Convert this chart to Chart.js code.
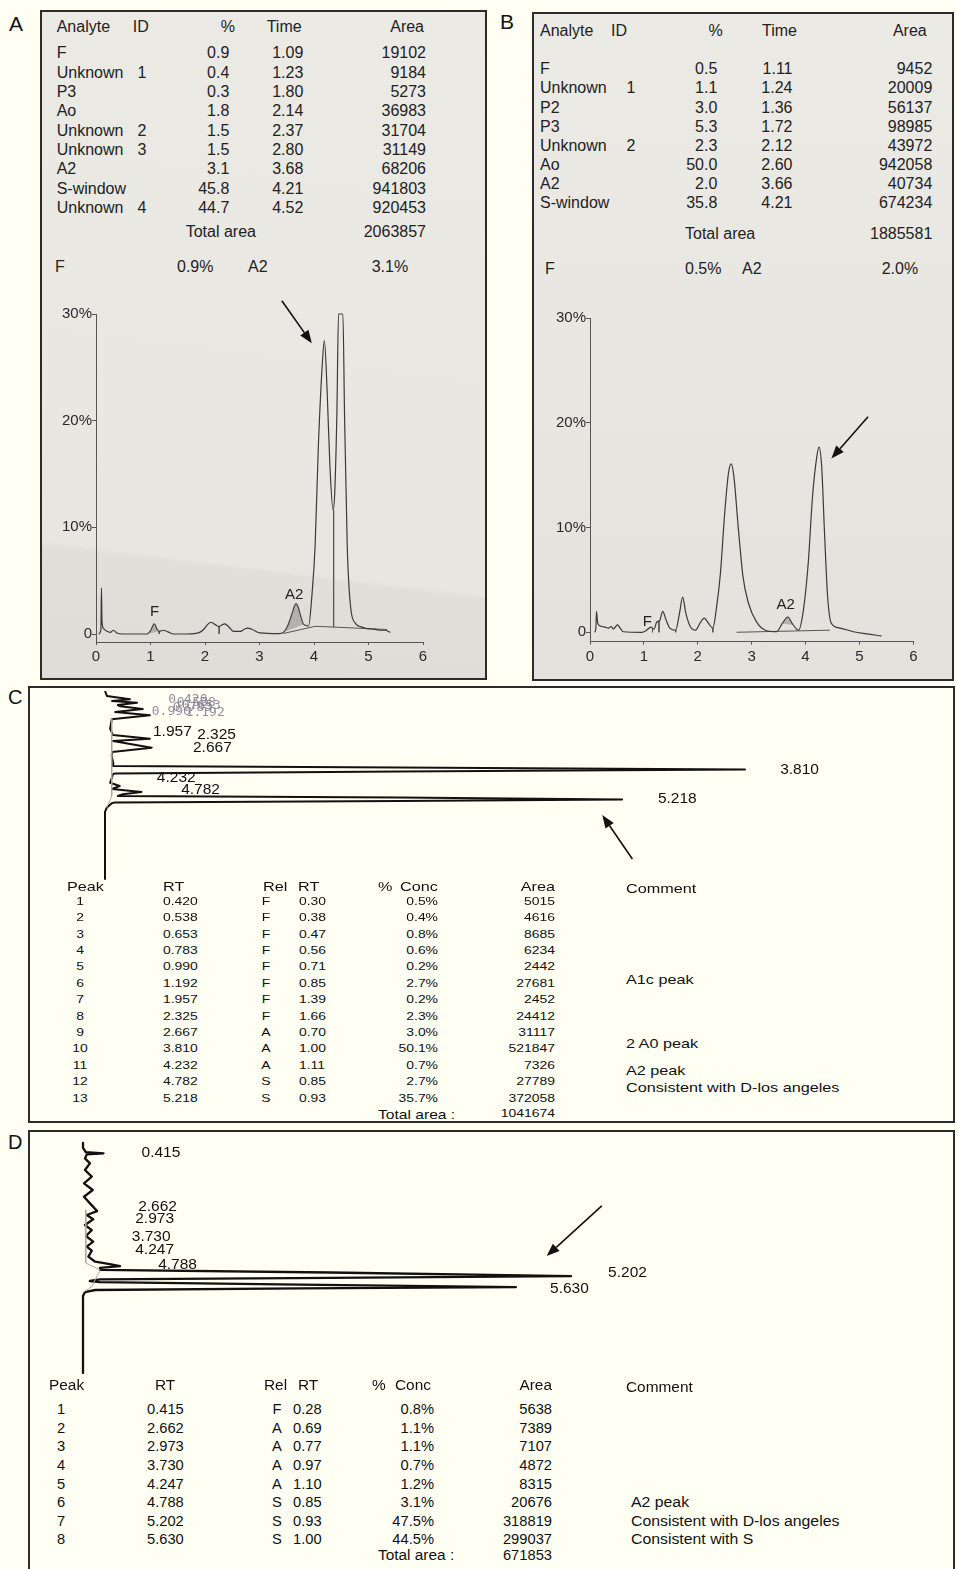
<!DOCTYPE html>
<html>
<head>
<meta charset="utf-8">
<script src="https://cdn.jsdelivr.net/npm/chart.js@4.4.1/dist/chart.umd.min.js"></script>
<style>
body{margin:0;background:#fffff4;font-family:"Liberation Sans",Arial,sans-serif;color:#222;}
#page{position:relative;width:957px;height:1569px;overflow:hidden;}
.box{position:absolute;border:2px solid #2b2b2b;box-sizing:border-box;}
#boxA{left:40px;top:10px;width:447px;height:670px;
  background:linear-gradient(187deg,#ebeae5 0%,#e7e6e1 81%,#e1dfda 81.6%,#dedcd6 100%);}
#boxB{left:532px;top:12px;width:422px;height:669px;
  background:linear-gradient(180deg,#eceae5 0%,#e7e6e1 60%,#e3e1dc 100%);}
#boxC{left:28px;top:686px;width:927px;height:437px;}
#boxD{left:28px;top:1130px;width:927px;height:450px;}
.t{position:absolute;white-space:nowrap;line-height:1;}
canvas{position:absolute;}
</style>
</head>
<body>
<div id="page">
  <div class="box" id="boxA"></div>
  <div class="box" id="boxB"></div>
  <div class="box" id="boxC"></div>
  <div class="box" id="boxD"></div>
  <canvas id="cvA" width="445" height="388" style="left:41px;top:290px"></canvas>
  <canvas id="cvB" width="420" height="388" style="left:533px;top:290px"></canvas>
  <canvas id="cvC" width="924" height="194" style="left:30px;top:688px"></canvas>
  <canvas id="cvD" width="924" height="250" style="left:30px;top:1132px"></canvas>
</div>
<script>
// ---------- panel A table ----------
const aAnalyte = ["F","Unknown","P3","Ao","Unknown","Unknown","A2","S-window","Unknown"];
const aId = ["","1","","","2","3","","","4"];
const aPercent = ["0.9","0.4","0.3","1.8","1.5","1.5","3.1","45.8","44.7"];
const aRetention = ["1.09","1.23","1.80","2.14","2.37","2.80","3.68","4.21","4.52"];
const aArea = ["19102","9184","5273","36983","31704","31149","68206","941803","920453"];
const aTotal = "2063857";
const aSummary = ["0.9%","3.1%"];

// ---------- panel B table ----------
const bAnalyte = ["F","Unknown","P2","P3","Unknown","Ao","A2","S-window"];
const bId = ["","1","","","2","","",""];
const bPercent = ["0.5","1.1","3.0","5.3","2.3","50.0","2.0","35.8"];
const bRetention = ["1.11","1.24","1.36","1.72","2.12","2.60","3.66","4.21"];
const bArea = ["9452","20009","56137","98985","43972","942058","40734","674234"];
const bTotal = "1885581";
const bSummary = ["0.5%","2.0%"];

// ---------- panel A chromatogram (time min, %) ----------
const aTime = [0.05,0.09,0.10,0.11,0.14,0.20,0.26,0.32,0.38,0.50,0.93,1.00,1.07,1.12,1.16,1.24,1.32,1.42,
  1.67,1.90,1.97,2.05,2.11,2.18,2.26,2.31,2.36,2.44,2.52,2.65,2.72,2.78,2.86,3.01,3.35,3.45,3.52,3.59,
  3.64,3.67,3.71,3.76,3.81,3.90,3.96,4.02,4.08,4.15,4.19,4.24,4.29,4.35,4.38,4.42,4.45,4.53,4.56,4.61,
  4.67,4.76,4.88,4.98,5.10,5.22,5.30,5.40];
const aSignal = [0,0.4,4.3,1.2,0.5,0.25,0.15,0.35,0.1,0,0,0.3,0.95,0.45,0.25,0.35,0.2,0,
  0,0.15,0.4,0.9,1.1,0.9,0.7,0.85,0.95,0.65,0.25,0.25,0.45,0.55,0.45,0.1,0.03,0.2,0.8,1.8,
  2.6,2.85,2.5,1.6,0.9,0.75,3.5,8.2,17.6,25.1,27.5,22.9,16.0,11.6,13.2,20.7,30,30,20.7,8.2,
  2.6,1.0,0.65,0.5,0.45,0.35,0.35,0.15];
const aBaseTime = [3.44,4.02,4.36,5.34];
const aBaseSignal = [0.05,0.72,0.65,0.42];
const aCutTime = [1.16,2.26,4.36];
const aCutTop = [0.25,0.7,11.6];
const aCutBottom = [0,0,0.65];
const aShade = [[0.93,1.16],[3.45,3.87]];
const aLabel = ["F","A2"];
const aLabelTime = [0.99,3.47];
const aLabelSignal = [2.09,3.68];
const aArrowTime = [3.41,3.96];
const aArrowSignal = [31.25,27.26];

// ---------- panel B chromatogram ----------
const bTime = [0.09,0.11,0.12,0.14,0.16,0.22,0.28,0.34,0.40,0.43,0.47,0.51,0.56,0.62,0.96,1.05,1.13,1.19,
  1.24,1.29,1.35,1.41,1.48,1.59,1.66,1.72,1.78,1.86,1.96,2.04,2.12,2.20,2.28,2.35,2.42,2.50,2.57,2.62,
  2.67,2.75,2.84,2.94,3.09,3.28,3.46,3.57,3.67,3.77,3.87,3.96,4.05,4.13,4.21,4.25,4.30,4.35,4.41,4.48,
  4.64,4.89,5.13,5.41];
const bSignal = [0,0.5,2.0,1.0,0.7,0.55,0.5,0.4,0.55,0.3,0.5,0.7,0.4,0.05,0,0.2,0.5,0.3,
  1.0,1.1,2.0,1.2,0.4,0.2,1.8,3.35,1.8,0.55,0.2,0.85,1.35,0.85,0.4,2.45,5.6,11.4,15.2,16.1,
  14.9,10.1,5.3,2.8,1.0,0.15,0.05,0.85,1.45,0.7,0.2,2.1,6.6,13.0,16.8,17.7,15.8,9.8,3.4,0.85,
  0.4,0.05,-0.15,-0.35];
const bBaseTime = [2.72,4.45];
const bBaseSignal = [0,0.2];
const bCutTime = [1.16,1.28,1.59,2.28];
const bCutTop = [0.35,1.1,0.2,0.4];
const bCutBottom = [0,0,0,0];
const bShade = [[1.08,1.16],[3.50,3.80]];
const bLabel = ["F","A2"];
const bLabelTime = [0.98,3.46];
const bLabelSignal = [1.03,2.58];
const bArrowTime = [5.16,4.48];
const bArrowSignal = [20.6,16.6];

const tickTimes = [0,1,2,3,4,5,6];
const tickPercents = [0,10,20,30];

// ---------- panel C (signal, time) ----------
const cTime = [0,0.23,0.39,0.47,0.55,0.66,0.72,0.85,0.99,1.14,1.33,1.78,2.07,2.24,2.35,2.66,2.86,3.05,
  3.39,3.52,3.59,3.685,3.78,3.87,3.91,4.31,4.46,4.60,4.74,4.85,4.93,5.00,5.09,5.16,5.23,5.27,5.48,5.68,8.83];
const cSignal = [0,0.3,3.9,1.1,5.0,2.0,2.4,5.9,1.6,7.0,1.05,0.8,1.25,7.0,1.25,7.3,1.1,1.05,
  1.3,1.25,46,100,46,1.56,1.25,0.8,2.3,1.1,5.7,2.8,2.0,46,80.8,46,1.56,1.05,0.27,0,0];
const cBaseTime = [1.3,4.93,5.48];
const cBaseSignal = [1.05,1.05,0.27];
const cPeakLabel = ["1.957","2.325","2.667","3.810","4.232","4.782","5.218"];
const cLabelSignal = [7.5,14.4,13.75,105.5,8.1,11.9,86.4];
const cLabelTime = [1.92,2.07,2.68,3.71,4.08,4.65,5.07];
const cSmallLabel = ["0.420","0.538","0.653","0.783","0.990","1.192"];
const cSmallSignal = [9.9,11.2,12.0,10.6,7.3,12.6];
const cSmallTime = [0.40,0.55,0.68,0.78,0.97,1.01];
const cArrowSignal = [82.4,77.7];
const cArrowTime = [7.89,5.82];

const cPeak = ["1","2","3","4","5","6","7","8","9","10","11","12","13"];
const cRT = ["0.420","0.538","0.653","0.783","0.990","1.192","1.957","2.325","2.667","3.810","4.232","4.782","5.218"];
const cRel = ["F","F","F","F","F","F","F","F","A","A","A","S","S"];
const cRelRT = ["0.30","0.38","0.47","0.56","0.71","0.85","1.39","1.66","0.70","1.00","1.11","0.85","0.93"];
const cConc = ["0.5%","0.4%","0.8%","0.6%","0.2%","2.7%","0.2%","2.3%","3.0%","50.1%","0.7%","2.7%","35.7%"];
const cArea = ["5015","4616","8685","6234","2442","27681","2452","24412","31117","521847","7326","27789","372058"];
const cTotal = "1041674";
const cComments = ["A1c peak","2 A0 peak","A2 peak","Consistent with D-los angeles"];

// ---------- panel D ----------
const dTime = [0,0.19,0.36,0.40,0.44,0.60,0.79,1.05,1.31,1.57,1.83,2.09,2.35,2.65,2.80,2.97,3.19,3.39,
  3.62,3.84,4.03,4.19,4.42,4.62,4.71,4.79,4.86,4.94,5.04,5.18,5.25,5.31,5.37,5.41,5.51,5.61,5.66,5.72,
  5.80,5.95,8.95];
const dSignal = [0,0,0.6,4.2,0.8,0.4,1.43,0.4,1.8,0.2,2.0,0.2,1.43,2.9,0.76,2.1,0.4,1.8,
  0.6,2.1,0.76,1.8,1.1,2.5,5.5,7.6,3.5,3.5,50.6,100,50.6,3.5,1.4,3.5,44.5,88.7,44.5,2.5,
  0.4,0,0];
const dBaseTime = [2.6,4.67,4.94,5.59,5.79];
const dBaseSignal = [0.57,0.57,3.5,1.8,0.2];
const dPeakLabel = ["0.415","2.662","2.973","3.730","4.247","4.788","5.202","5.630"];
const dLabelSignal = [12.0,11.3,10.7,10.0,10.7,15.4,107.6,95.7];
const dLabelTime = [0.39,2.49,2.96,3.66,4.16,4.75,5.06,5.68];
const dArrowSignal = [106.3,95];
const dArrowTime = [2.45,4.40];

const dPeak = ["1","2","3","4","5","6","7","8"];
const dRT = ["0.415","2.662","2.973","3.730","4.247","4.788","5.202","5.630"];
const dRel = ["F","A","A","A","A","S","S","S"];
const dRelRT = ["0.28","0.69","0.77","0.97","1.10","0.85","0.93","1.00"];
const dConc = ["0.8%","1.1%","1.1%","0.7%","1.2%","3.1%","47.5%","44.5%"];
const dArea = ["5638","7389","7107","4872","8315","20676","318819","299037"];
const dComment = ["","","","","","A2 peak","Consistent with D-los angeles","Consistent with S"];
const dTotal = "671853";

// ---------- text helper ----------
const page = document.getElementById("page");
function put(text, x, y, size, align, sx, color){
  const s = document.createElement("span");
  s.className = "t";
  s.textContent = text;
  s.style.left = x + "px";
  s.style.top = y + "px";
  s.style.fontSize = size + "px";
  const o = {l:["0%","0%"], r:["100%","-100%"], c:["50%","-50%"]}[align || "l"];
  s.style.transformOrigin = o[0] + " 50%";
  s.style.transform = "translate(" + o[1] + ",-50%) scaleX(" + (sx || 1) + ")";
  if(color) s.style.color = color;
  page.appendChild(s);
}

// panel letters
put("A", 9, 23, 21, "l", 1, "#111");
put("B", 500, 21, 21, "l", 1, "#111");
put("C", 8, 697, 20, "l", 1, "#111");
put("D", 8, 1142, 20, "l", 1, "#111");

// table A
const ink = "#222";
put("Analyte", 56.7, 26.7, 16, "l", 1, ink);
put("ID", 132.7, 26.7, 16, "l", 1, ink);
put("%", 235, 26.7, 16, "r", 1, ink);
put("Time", 266.7, 26.7, 16, "l", 1, ink);
put("Area", 424, 26.7, 16, "r", 1, ink);
aAnalyte.forEach((n,i)=>{
  const y = 53.3 + i*19.33;
  put(n, 56.7, y, 16, "l", 1, ink);
  put(aId[i], 142, y, 16, "c", 1, ink);
  put(aPercent[i], 229.3, y, 16, "r", 1, ink);
  put(aRetention[i], 303.3, y, 16, "r", 1, ink);
  put(aArea[i], 426, y, 16, "r", 1, ink);
});
put("Total area", 185.7, 232.3, 16, "l", 1, ink);
put(aTotal, 426, 232.3, 16, "r", 1, ink);
put("F", 55, 266.7, 16, "l", 1, ink);
put(aSummary[0], 177, 266.7, 16, "l", 1, ink);
put("A2", 248, 266.7, 16, "l", 1, ink);
put(aSummary[1], 371.7, 266.7, 16, "l", 1, ink);

// table B
put("Analyte", 540, 31, 16, "l", 1, ink);
put("ID", 611, 31, 16, "l", 1, ink);
put("%", 722.7, 31, 16, "r", 1, ink);
put("Time", 762, 31, 16, "l", 1, ink);
put("Area", 926.7, 31, 16, "r", 1, ink);
bAnalyte.forEach((n,i)=>{
  const y = 69.3 + i*19.14;
  put(n, 540, y, 16, "l", 1, ink);
  put(bId[i], 631, y, 16, "c", 1, ink);
  put(bPercent[i], 717.3, y, 16, "r", 1, ink);
  put(bRetention[i], 792.5, y, 16, "r", 1, ink);
  put(bArea[i], 932.3, y, 16, "r", 1, ink);
});
put("Total area", 685, 234, 16, "l", 1, ink);
put(bTotal, 932.3, 234, 16, "r", 1, ink);
put("F", 545, 269.3, 16, "l", 1, ink);
put(bSummary[0], 685, 269.3, 16, "l", 1, ink);
put("A2", 742, 269.3, 16, "l", 1, ink);
put(bSummary[1], 881.7, 269.3, 16, "l", 1, ink);

// table C
const cHead = 886.7;
put("Peak", 66.5, cHead, 13.5, "l", 1.2, "#111");
put("RT", 163, cHead, 13.5, "l", 1.2, "#111");
put("Rel", 263, cHead, 13.5, "l", 1.2, "#111");
put("RT", 297.5, cHead, 13.5, "l", 1.2, "#111");
put("%", 377.5, cHead, 13.5, "l", 1.2, "#111");
put("Conc", 400, cHead, 13.5, "l", 1.2, "#111");
put("Area", 555, cHead, 13.5, "r", 1.2, "#111");
put("Comment", 626, cHead + 2, 13.5, "l", 1.2, "#111");
cPeak.forEach((p,i)=>{
  const y = 901.7 + i*16.4;
  put(p, 80, y, 11.8, "c", 1.18, "#111");
  put(cRT[i], 163, y, 11.8, "l", 1.18, "#111");
  put(cRel[i], 266, y, 11.8, "c", 1.18, "#111");
  put(cRelRT[i], 299, y, 11.8, "l", 1.18, "#111");
  put(cConc[i], 438, y, 11.8, "r", 1.18, "#111");
  put(cArea[i], 555, y, 11.8, "r", 1.18, "#111");
});
put("Total area :", 377.5, 1114.3, 13, "l", 1.2, "#111");
put(cTotal, 555, 1114.3, 11.8, "r", 1.18, "#111");
[980, 1044, 1071, 1088].forEach((y,i)=> put(cComments[i], 626, y, 13.5, "l", 1.2, "#111"));

// table D
const dHead = 1385;
put("Peak", 48.7, dHead, 14, "l", 1.1, "#111");
put("RT", 155, dHead, 14, "l", 1.1, "#111");
put("Rel", 263.8, dHead, 14, "l", 1.1, "#111");
put("RT", 297.5, dHead, 14, "l", 1.1, "#111");
put("%", 371.6, dHead, 14, "l", 1.1, "#111");
put("Conc", 395, dHead, 14, "l", 1.1, "#111");
put("Area", 552, dHead, 14, "r", 1.1, "#111");
put("Comment", 626, dHead + 2, 14, "l", 1.1, "#111");
dPeak.forEach((p,i)=>{
  const y = 1409.3 + i*18.57;
  put(p, 60.6, y, 14, "c", 1.05, "#111");
  put(dRT[i], 146.5, y, 14, "l", 1.05, "#111");
  put(dRel[i], 276.8, y, 14, "c", 1.05, "#111");
  put(dRelRT[i], 292.8, y, 14, "l", 1.05, "#111");
  put(dConc[i], 433.8, y, 14, "r", 1.05, "#111");
  put(dArea[i], 552.3, y, 14, "r", 1.05, "#111");
  if(dComment[i]) put(dComment[i], 631, y, 14, "l", 1.13, "#111");
});
put("Total area :", 377.5, 1555, 14, "l", 1.1, "#111");
put(dTotal, 552.3, 1555, 14, "r", 1.05, "#111");

// ---------- chart helpers ----------
function xy(xs, ys){ return xs.map((v,i)=>({x:v, y:ys[i]})); }

function drawArrow(ctx, x1, y1, x2, y2){
  const a = Math.atan2(y2-y1, x2-x1), L = 13, W = 5;
  const bx = x2 - L*Math.cos(a), by = y2 - L*Math.sin(a);
  ctx.beginPath(); ctx.moveTo(x1,y1); ctx.lineTo(bx,by); ctx.stroke();
  ctx.beginPath(); ctx.moveTo(x2,y2);
  ctx.lineTo(bx + W*Math.sin(a), by - W*Math.cos(a));
  ctx.lineTo(bx - W*Math.sin(a), by + W*Math.cos(a));
  ctx.closePath(); ctx.fill();
}

const notesPlugin = {
  id: "notes",
  afterDatasetsDraw(chart, args, opts){
    const ctx = chart.ctx, sx = chart.scales.x, sy = chart.scales.y;
    ctx.save();
    ctx.textBaseline = "middle";
    ctx.textAlign = "left";
    (opts.texts || []).forEach(n=>{
      ctx.font = n.font;
      ctx.fillStyle = n.color;
      ctx.fillText(n.text, sx.getPixelForValue(n.x), sy.getPixelForValue(n.y));
    });
    ctx.strokeStyle = "#111";
    ctx.fillStyle = "#111";
    ctx.lineWidth = 1.6;
    (opts.arrows || []).forEach(a=>{
      drawArrow(ctx, sx.getPixelForValue(a[0]), sy.getPixelForValue(a[1]),
        sx.getPixelForValue(a[2]), sy.getPixelForValue(a[3]));
    });
    ctx.restore();
  }
};

function labelsFrom(texts, xs, ys, font, color){
  return texts.map((t,i)=>({text:t, x:xs[i], y:ys[i], font:font, color:color}));
}

// panel A / B chart
function peakChart(id, d, geo){
  const curve = xy(d.time, d.signal);
  const ds = [];
  d.shade.forEach(r=>{
    ds.push({data: curve.filter(p=>p.x >= r[0] && p.x <= r[1]), fill:"shape",
      backgroundColor:"rgba(105,105,105,0.38)", borderWidth:0});
  });
  ds.push({data: curve, borderColor:"#3a3a3a", borderWidth:1.2, cubicInterpolationMode:"monotone"});
  ds.push({data: xy(d.baseTime, d.baseSignal), borderColor:"#555", borderWidth:1});
  d.cutTime.forEach((t,i)=>{
    ds.push({data:[{x:t, y:d.cutTop[i]}, {x:t, y:d.cutBottom[i]}], borderColor:"#555", borderWidth:1});
  });
  ds.forEach(s=>{ s.clip = false; if(s.fill === undefined) s.fill = false; });

  const tickFont = {family:"Liberation Sans", size:15};
  new Chart(document.getElementById(id), {
    type:"line",
    data:{datasets:ds},
    options:{
      responsive:false, animation:false, devicePixelRatio:1, events:[],
      elements:{point:{radius:0}, line:{borderJoinStyle:"round"}},
      layout:{autoPadding:false, padding:{left:0, right:geo.right, top:geo.top, bottom:0}},
      plugins:{
        legend:{display:false}, tooltip:{enabled:false},
        notes:{
          texts: labelsFrom(d.label, d.labelTime, d.labelSignal, "15px 'Liberation Sans'", "#222"),
          arrows: [[d.arrowTime[0], d.arrowSignal[0], d.arrowTime[1], d.arrowSignal[1]]]
        }
      },
      scales:{
        x:{type:"linear", min:0, max:6,
          afterFit: s=>{ s.height = geo.xh; },
          afterBuildTicks: s=>{ s.ticks = tickTimes.map(v=>({value:v})); },
          grid:{drawOnChartArea:false, drawTicks:true, tickLength:3, color:"#555"},
          border:{display:true, color:"#555", width:1},
          ticks:{autoSkip:false, maxRotation:0, padding:3, color:"#2a2a2a", font:tickFont}},
        y:{type:"linear", min:geo.ymin, max:30,
          afterFit: s=>{ s.width = geo.yw; },
          afterBuildTicks: s=>{ s.ticks = tickPercents.map(v=>({value:v})); },
          grid:{drawOnChartArea:false, drawTicks:true, tickLength:4, color:"#555"},
          border:{display:true, color:"#555", width:1},
          ticks:{autoSkip:false, padding:0, color:"#2a2a2a", font:tickFont,
            callback: v => v === 0 ? "0" : v + "%"}}
      }
    },
    plugins:[notesPlugin]
  });
}

peakChart("cvA", {time:aTime, signal:aSignal, baseTime:aBaseTime, baseSignal:aBaseSignal,
  cutTime:aCutTime, cutTop:aCutTop, cutBottom:aCutBottom, shade:aShade,
  label:aLabel, labelTime:aLabelTime, labelSignal:aLabelSignal,
  arrowTime:aArrowTime, arrowSignal:aArrowSignal},
  {right:63, top:24, xh:36, yw:55, ymin:-0.75});

peakChart("cvB", {time:bTime, signal:bSignal, baseTime:bBaseTime, baseSignal:bBaseSignal,
  cutTime:bCutTime, cutTop:bCutTop, cutBottom:bCutBottom, shade:bShade,
  label:bLabel, labelTime:bLabelTime, labelSignal:bLabelSignal,
  arrowTime:bArrowTime, arrowSignal:bArrowSignal},
  {right:39.7, top:28.3, xh:36.3, yw:57, ymin:-0.9});

// panel C / D: time runs downward, peaks point right
function traceChart(id, d, geo){
  const labelFont = "15.5px 'Liberation Sans'";
  let texts = labelsFrom(d.label, d.labelSignal, d.labelTime, labelFont, "#111");
  if(d.small) texts = labelsFrom(d.small, d.smallSignal, d.smallTime, "13px 'DejaVu Sans Mono'", "rgba(128,122,146,0.85)").concat(texts);
  new Chart(document.getElementById(id), {
    type:"line",
    data:{datasets:[
      {data: xy(d.baseSignal, d.baseTime), borderColor:"#a8a8a8", borderWidth:1, fill:false},
      {data: xy(d.signal, d.time), borderColor:"#111", borderWidth:geo.lw, fill:false}
    ]},
    options:{
      responsive:false, animation:false, devicePixelRatio:1, events:[],
      elements:{point:{radius:0}, line:{borderJoinStyle:"round", tension:0}},
      layout:{autoPadding:false, padding:0},
      plugins:{legend:{display:false}, tooltip:{enabled:false},
        notes:{texts: texts,
          arrows:[[d.arrowSignal[0], d.arrowTime[0], d.arrowSignal[1], d.arrowTime[1]]]}},
      scales:{
        x:{type:"linear", display:false, min:geo.xmin, max:geo.xmax},
        y:{type:"linear", display:false, min:geo.tmin, max:geo.tmax, reverse:true}
      }
    },
    plugins:[notesPlugin]
  });
}

traceChart("cvC", {time:cTime, signal:cSignal, baseTime:cBaseTime, baseSignal:cBaseSignal,
  label:cPeakLabel, labelSignal:cLabelSignal, labelTime:cLabelTime,
  small:cSmallLabel, smallSignal:cSmallSignal, smallTime:cSmallTime,
  arrowSignal:cArrowSignal, arrowTime:cArrowTime},
  {xmin:-11.72, xmax:132.66, tmin:-0.141, tmax:8.967, lw:2});

traceChart("cvD", {time:dTime, signal:dSignal, baseTime:dBaseTime, baseSignal:dBaseSignal,
  label:dPeakLabel, labelSignal:dLabelSignal, labelTime:dLabelTime,
  arrowSignal:dArrowSignal, arrowTime:dArrowTime},
  {xmin:-10.86, xmax:178.48, tmin:-0.428, tmax:9.30, lw:2.3});
</script>
</body>
</html>
